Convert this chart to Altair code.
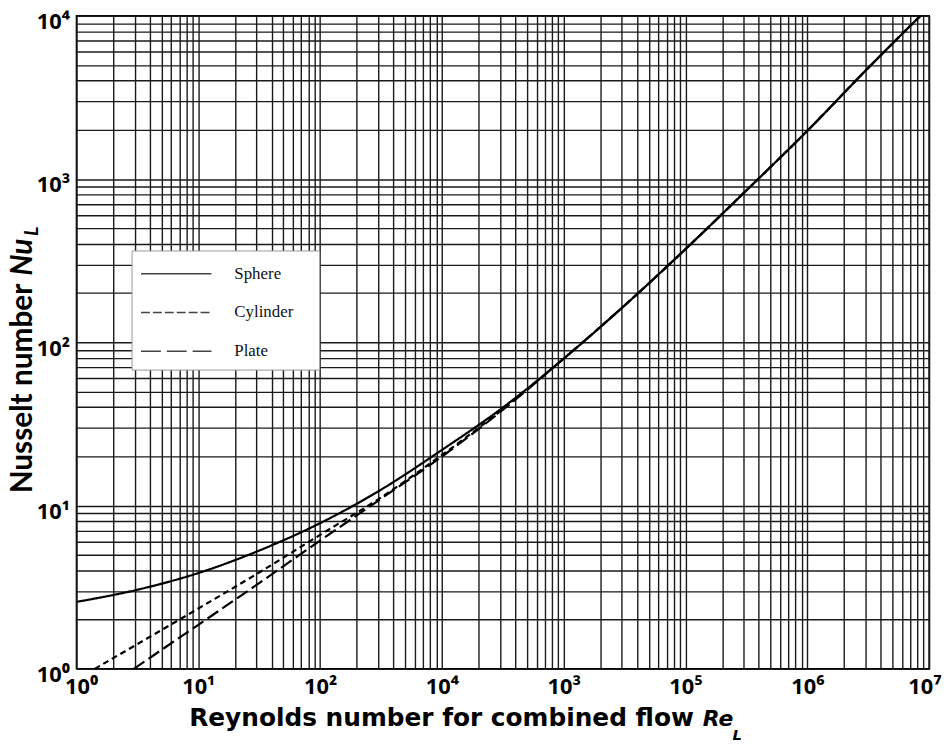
import altair as alt
import pandas as pd

# ---- data (Re, Nu) ----
re_sphere = [1, 3.16, 10, 31.6, 100, 316, 1000, 3160, 10000, 31600, 1e5, 3.16e5, 1e6, 3.16e6, 8.5e6]
nu_sphere = [2.57, 3.05, 3.86, 5.3, 7.8, 12.5, 21.9, 39.8, 79.4, 168, 372, 851, 1972, 4786, 10000]

re_cyl = [1.41, 10, 31.6, 100, 316, 1000, 3160, 10000, 31600, 1e5, 3.16e5, 1e6, 3.16e6, 8.5e6]
nu_cyl = [1.0, 2.34, 3.89, 6.61, 11.2, 20.4, 38.9, 79.4, 168, 372, 851, 1972, 4786, 10000]

re_plate = [2.95, 10, 31.6, 100, 316, 1000, 3160, 10000, 31600, 1e5, 3.16e5, 1e6, 3.16e6, 8.5e6]
nu_plate = [1.0, 1.86, 3.35, 6.10, 11.0, 19.95, 38.5, 79.4, 168, 372, 851, 1972, 4786, 10000]

series_names = ["Sphere", "Cylinder", "Plate"]

x_tick_values = [1, 10, 100, 1000, 10000, 100000, 1000000, 10000000]
x_tick_labels = ["10⁰", "10¹", "10²", "10⁴", "10³", "10⁵", "10⁶", "10⁷"]
y_tick_values = [1, 10, 100, 1000, 10000]
y_tick_labels = ["10⁰", "10¹", "10²", "10³", "10⁴"]

x_title_main = "Reynolds number for combined flow"
x_title_sym = "Re"
y_title_main = "Nusselt number"
y_title_sym = "Nu"
sub_label = "L"

# ---- build tables ----
frames = []
for name, xs, ys in zip(series_names, [re_sphere, re_cyl, re_plate], [nu_sphere, nu_cyl, nu_plate]):
    frames.append(pd.DataFrame({"Re": xs, "Nu": ys, "series": name}))
df = pd.concat(frames, ignore_index=True)

x_grid = [k * 10 ** e for e in range(0, 7) for k in range(1, 10)] + [10 ** 7]
y_grid = [k * 10 ** e for e in range(0, 4) for k in range(1, 10)] + [10 ** 4]


def label_expr(vals, labs):
    expr = "''"
    for v, l in reversed(list(zip(vals, labs))):
        expr = f"datum.value == {v} ? '{l}' : ({expr})"
    return expr


W, H = 859, 658
GRID = "#1a1a1a"

x_enc = alt.X(
    "Re:Q",
    scale=alt.Scale(type="log", domain=[1, 1e7], nice=False),
    axis=alt.Axis(
        values=x_grid, labelExpr=label_expr(x_tick_values, x_tick_labels),
        grid=True, gridColor=GRID, gridWidth=1.4, gridOpacity=1,
        ticks=False, domain=False, title=None,
        labelFont="Noto Sans", labelFontSize=22, labelFontWeight="bold",
        labelColor="black", labelPadding=8, labelOverlap=False,
        labelFlush=True, labelFlushOffset=12,
    ),
)
y_enc = alt.Y(
    "Nu:Q",
    scale=alt.Scale(type="log", domain=[1, 1e4], nice=False),
    axis=alt.Axis(
        values=y_grid, labelExpr=label_expr(y_tick_values, y_tick_labels),
        grid=True, gridColor=GRID, gridWidth=1.4, gridOpacity=1,
        ticks=False, domain=False, title=None,
        labelFont="Noto Sans", labelFontSize=22, labelFontWeight="bold",
        labelColor="black", labelPadding=7, labelOverlap=False, labelFlush=False,
        labelOffset=6,
    ),
)

dash_map = {"Sphere": [1, 0], "Cylinder": [6, 4], "Plate": [13, 5]}
layers = []
for name in ["Plate", "Cylinder", "Sphere"]:
    layers.append(
        alt.Chart(df)
        .transform_filter(alt.datum.series == name)
        .mark_line(color="black", strokeWidth=2.2, strokeDash=dash_map[name], clip=True,
                   interpolate="monotone")
        .encode(x=x_enc, y=y_enc, order="Re:Q")
    )

one = pd.DataFrame({"a": [0]})

# legend box
layers.append(
    alt.Chart(one).mark_rect(fill="white", stroke="#9a9a9a", strokeWidth=1)
    .encode(x=alt.value(56), x2=alt.value(245), y=alt.value(237), y2=alt.value(357))
)
legend_dash = {"Sphere": [1, 0], "Cylinder": [9, 3], "Plate": [20, 6]}
for i, name in enumerate(series_names):
    yy = 260 + i * 39
    layers.append(
        alt.Chart(one).mark_rule(color="#444", strokeWidth=1.5, strokeDash=legend_dash[name])
        .encode(x=alt.value(65), x2=alt.value(136), y=alt.value(yy))
    )
    layers.append(
        alt.Chart(one).mark_text(text=name, font="Liberation Serif", fontSize=17,
                                 align="left", baseline="middle", color="#111")
        .encode(x=alt.value(159), y=alt.value(yy))
    )

# x title
layers.append(
    alt.Chart(one).mark_text(text=x_title_main, font="DejaVu Sans", fontSize=25,
                             fontWeight="bold", align="right", baseline="alphabetic",
                             color="black")
    .encode(x=alt.value(622), y=alt.value(716))
)
layers.append(
    alt.Chart(one).mark_text(text=x_title_sym, font="DejaVu Sans", fontSize=22, fontWeight="bold",
                             fontStyle="italic", align="left", baseline="alphabetic", color="black")
    .encode(x=alt.value(631), y=alt.value(716))
)
layers.append(
    alt.Chart(one).mark_text(text=sub_label, font="DejaVu Sans", fontSize=15, fontWeight="bold",
                             fontStyle="italic", align="left", baseline="alphabetic", color="black")
    .encode(x=alt.value(661), y=alt.value(730))
)
# y title (rotated)
layers.append(
    alt.Chart(one).mark_text(text=y_title_main, font="Lato", fontSize=30, fontWeight="bold",
                             angle=270, align="right", baseline="alphabetic", color="black")
    .encode(x=alt.value(-45), y=alt.value(270))
)
layers.append(
    alt.Chart(one).mark_text(text=y_title_sym, font="Lato", fontSize=30, fontWeight="bold",
                             fontStyle="italic", angle=270, align="left", baseline="alphabetic",
                             color="black")
    .encode(x=alt.value(-45), y=alt.value(262))
)
layers.append(
    alt.Chart(one).mark_text(text=sub_label, font="Lato", fontSize=20, fontWeight="bold",
                             fontStyle="italic", angle=270, align="left", baseline="alphabetic",
                             color="black")
    .encode(x=alt.value(-39), y=alt.value(222))
)

chart = (
    alt.layer(*layers)
    .properties(
        width=W, height=H,
        padding={"left": 69, "top": 5, "right": 14, "bottom": 79},
        autosize=alt.AutoSizeParams(type="none"),
        background="white",
    )
    .configure_view(stroke="black", strokeWidth=1.6)
)

chart.save("out.html", embed_options={"renderer": "svg", "actions": False})
